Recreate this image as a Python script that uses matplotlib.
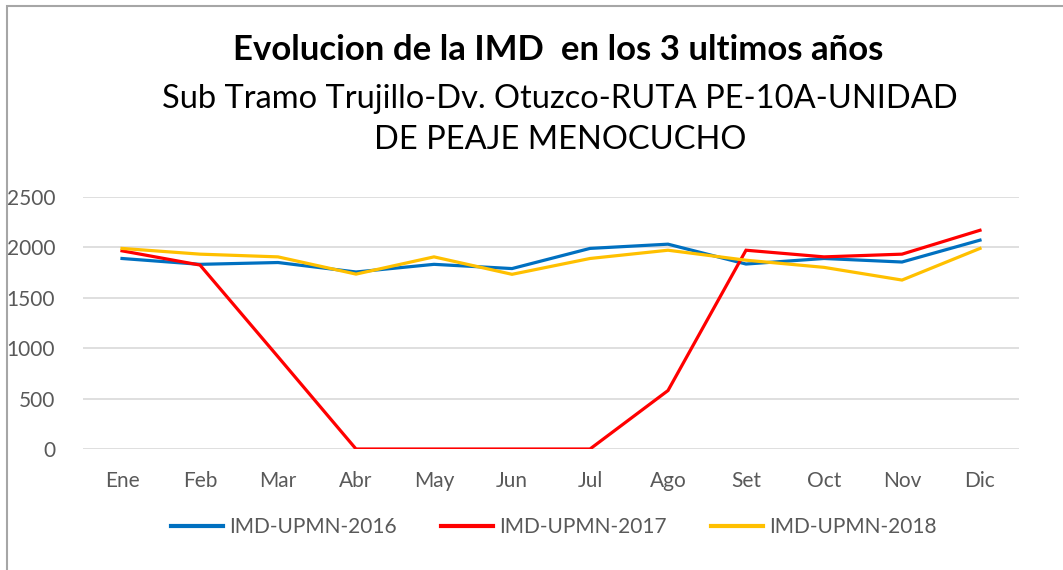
import numpy as np
from matplotlib import pyplot as plt
from matplotlib.patches import Rectangle

meses = ['Ene', 'Feb', 'Mar', 'Abr', 'May', 'Jun', 'Jul', 'Ago', 'Set', 'Oct', 'Nov', 'Dic']
imd_2016 = [1890, 1832, 1850, 1756, 1832, 1790, 1990, 2032, 1835, 1890, 1855, 2072]
imd_2017 = [1966, 1825, 915, 0, 0, 0, 0, 580, 1972, 1906, 1933, 2170]
imd_2018 = [1990, 1933, 1906, 1735, 1906, 1733, 1890, 1972, 1873, 1802, 1676, 1990]
series = [('IMD-UPMN-2016', imd_2016, '#0070C0'),
          ('IMD-UPMN-2017', imd_2017, '#FF0000'),
          ('IMD-UPMN-2018', imd_2018, '#FFC000')]

plt.rcParams['font.family'] = ['Lato', 'DejaVu Sans']

fig = plt.figure(figsize=(10.63, 5.70), dpi=100)
# chart frame, only top and left edges visible
fig.patches.append(Rectangle((7/1063, -0.1), 1.2, 1.0 - 6/570 + 0.1, transform=fig.transFigure,
                             fill=False, edgecolor='#A6A6A6', lw=1.5))
ax = fig.add_axes([83/1063, 1-449/570, 936/1063, 252/570])

x = np.arange(len(meses))
for name, vals, col in series:
    ax.plot(x, vals, '-', lw=2.3, color=col, label=name, solid_joinstyle='miter')

ax.set_xlim(-0.5, len(meses)-0.5)
ax.set_ylim(0, 2500)
ax.set_yticks(np.arange(0, 2501, 500))
ax.set_xticks(x)
ax.set_xticklabels(meses)
ax.grid(axis='y', color='#D9D9D9', lw=1.2)
ax.set_axisbelow(True)
for s in ax.spines.values():
    s.set_visible(False)
ax.tick_params(axis='both', length=0, labelsize=15, colors='#595959')
ax.tick_params(axis='x', pad=16)
ax.tick_params(axis='y', pad=20)

fig.text(0.525, 1-50/570, 'Evolucion de la IMD  en los 3 ultimos años', ha='center', va='center',
         fontsize=25, fontweight='bold', color='black')
fig.text(0.527, 1-99/570, 'Sub Tramo Trujillo-Dv. Otuzco-RUTA PE-10A-UNIDAD', ha='center', va='center',
         fontsize=23.5, color='black')
fig.text(0.527, 1-140/570, 'DE PEAJE MENOCUCHO', ha='center', va='center',
         fontsize=23.5, color='black')

leg = fig.legend(loc='center', bbox_to_anchor=(0.521, 1-527/570), ncol=3, frameon=False,
                 fontsize=15, handlelength=2.5, columnspacing=2.1, handletextpad=0.3)
for t in leg.get_texts():
    t.set_color('#595959')
for h in leg.get_lines():
    h.set_linewidth(3)

fig.savefig('out.png', dpi=100)
plt.close()
